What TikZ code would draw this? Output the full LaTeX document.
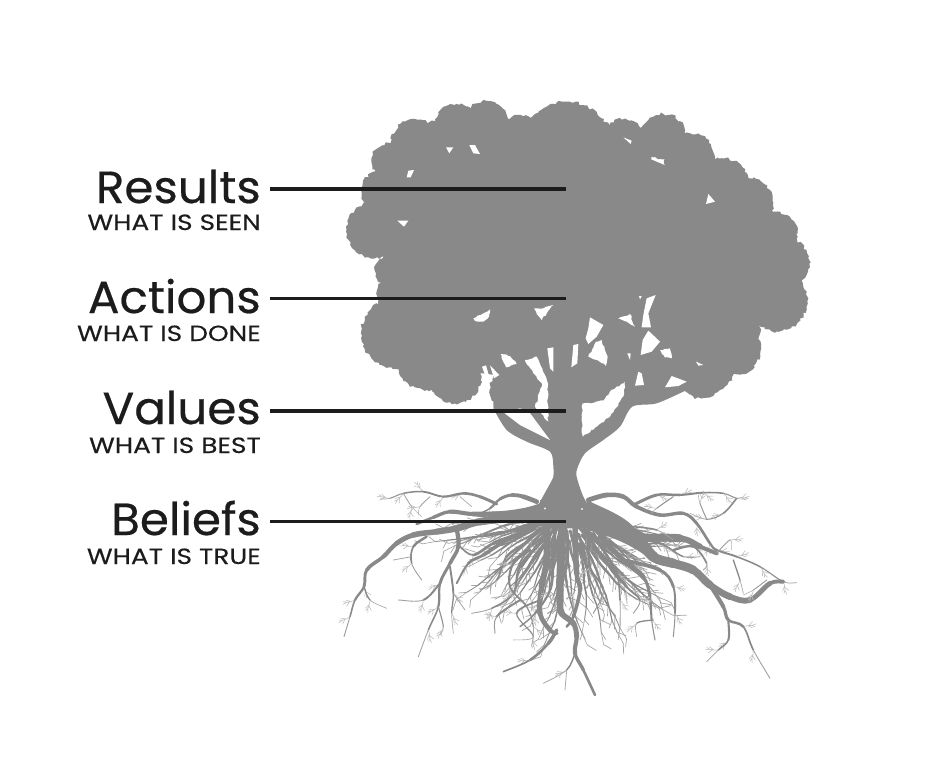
\documentclass[tikz,border=0pt]{standalone}
\usepackage{fontspec}
\setmainfont{Poppins}
\newfontfamily\hdfont[FakeBold=0.45,FakeStretch=1.04]{Poppins}
\newfontfamily\sbfont[FakeBold=0.25,FakeStretch=1.2]{Poppins}
\usetikzlibrary{decorations.pathmorphing}
\definecolor{treegray}{HTML}{898989}
\definecolor{inkk}{HTML}{1C1C1C}
\newcount\rc
\newcommand\RX[1]{\csname rx#1\endcsname}
\newcommand\RY[1]{\csname ry#1\endcsname}
% small twig with side forks, starting at (x,y) heading angle
\newcommand\tw[3]{%
  \draw[rootline,line width=.55pt,color=treegray!55!white]
    (#1,#2) -- ++({#3}:13) coordinate (tq) -- ++({#3+12}:13) coordinate (tr) -- ++({#3-6}:13)
    (tq) -- ++({#3+38}:17) (tq) ++({#3+8}:5) -- ++({#3-35}:15)
    (tr) -- ++({#3+35}:10);}
% tapered smooth root: start width, end width, points
\newcommand\rt[3]{%
  \global\rc=0
  \foreach \x/\y in {#3}{\global\advance\rc by 1
    \expandafter\xdef\csname rx\the\rc\endcsname{\x}%
    \expandafter\xdef\csname ry\the\rc\endcsname{\y}}%
  \pgfmathtruncatemacro\nseg{\the\rc-1}%
  \foreach \i in {1,...,\nseg}{%
    \pgfmathtruncatemacro\ia{max(\i-1,1)}%
    \pgfmathtruncatemacro\ib{\i+1}%
    \pgfmathtruncatemacro\ic{min(\i+2,\nseg+1)}%
    \pgfmathsetmacro\w{#1+(#2-#1)*(\i-.5)/\nseg}%
    \pgfmathsetmacro\pc{min(100,40+60*\w/1.3)}%
    \pgfmathsetmacro\ax{\RX{\i}+(\RX{\ib}-\RX{\ia})/6}%
    \pgfmathsetmacro\ay{\RY{\i}+(\RY{\ib}-\RY{\ia})/6}%
    \pgfmathsetmacro\bx{\RX{\ib}-(\RX{\ic}-\RX{\i})/6}%
    \pgfmathsetmacro\by{\RY{\ib}-(\RY{\ic}-\RY{\i})/6}%
    \draw[rootline,line width=\w pt,color=treegray!\pc!white] (\RX{\i},\RY{\i}) .. controls (\ax,\ay) and (\bx,\by) .. (\RX{\ib},\RY{\ib});
    \ifnum\i<\nseg
    \ifdim\w pt<3pt
      \pgfmathsetmacro\dirr{atan2(\RY{\ib}-\RY{\i},\RX{\ib}-\RX{\i})+(rnd>.5?1:-1)*(25+25*rnd)}%
      \tw{\RX{\ib}}{\RY{\ib}}{\dirr}%
    \fi\fi
  }}
\tikzset{
  rootline/.style={line cap=round,line join=round},
  tuft/.style={fill=treegray,decorate,decoration={random steps,segment length=2.8pt,amplitude=1.5pt}},
  hole/.style={fill=white,decorate,decoration={random steps,segment length=2.6pt,amplitude=.8pt}},
  title/.style={anchor=base east,inner sep=0pt,font=\hdfont\fontsize{45}{45}\selectfont,text=inkk},
  subtitle/.style={anchor=base east,inner sep=0pt,font=\sbfont\fontsize{22}{22}\selectfont,text=inkk},
  leader/.style={draw=inkk,line width=3.4pt}
}
\begin{document}
\begin{tikzpicture}[x=1pt,y=-1pt]
\useasboundingbox[fill=white] (0,0) rectangle (930,772);
\pgfmathsetseed{11}
% ---------- canopy (coordinates of a 3x crop at 340,90)
\begin{scope}[shift={(340,90)},scale=1/3]
  \fill[treegray] (170,300)--(240,200)--(420,130)--(700,110)--(1080,270)--(1300,480)--(1300,640)--(1180,760)--(1050,850)--(880,870)--(760,900)--(430,850)--(300,850)--(130,700)--(130,450)--cycle;
  \foreach \cx/\cy/\r in {
    105/420/85, 135/305/70, 150/215/55, 200/265/65, 225/160/72, 290/150/56, 350/105/63, 440/100/67, 540/140/65, 680/170/135,
    770/160/70, 850/150/62, 910/160/50, 970/140/68, 1050/205/75, 1145/290/85, 1225/340/75, 1295/440/78, 1330/520/78,
    1310/632/92, 1140/700/120, 1190/780/72, 1120/840/62, 1085/860/65, 170/730/107, 260/810/90,
    345/860/80, 150/540/45, 155/610/45, 980/800/80, 760/845/88}
    {\fill[tuft] (\cx,\cy) circle [radius=\r];}
\end{scope}
% ---------- trunk and big limbs (3x crop at 470,340)
\begin{scope}[shift={(470,340)},scale=1/3]
  \fill[tuft] (132,148) circle [radius=72];
  \fill[treegray] plot[smooth,tension=.5] coordinates {(70,205)(110,270)(170,305)(240,335)(250,380)(250,410)(235,440)(208,490)(198,520)(190,560)}
    -- plot[smooth,tension=.5] coordinates {(390,560)(370,520)(340,470)(320,410)(322,385)(345,340)(400,300)(450,260)(487,200)(560,190)(650,150)}
    -- (650,60)--(70,60)--cycle;
  % white gaps between the limbs
  \fill[white] (104,220)--(150,255)--(240,300)--(176,214)--(150,205)--cycle;
  \fill[white] (60,215)--(70,205)--(68,195)--(60,190)--(50,205)--cycle;
  \fill[hole] (165,60)--(200,50)--(232,125)--(235,245)--(195,200)--(217,135)--(190,100)--cycle;
  \fill[white] (232,25)--(250,22)--(250,95)--(240,85)--cycle;
  \fill[white] (310,15)--(325,12)--(322,70)--(304,82)--cycle;
  \fill[hole] (338,190)--(372,188)--(400,182)--(420,155)--(465,125)--(460,170)--(420,230)--(338,290)--(335,240)--cycle;
  \fill[white] (28,165)--(40,135)--(52,175)--cycle;
  \fill[white] (36,80)--(48,76)--(60,118)--(50,118)--cycle;
  \fill[white] (60,76)--(88,105)--(72,115)--cycle;
  \fill[hole] (92,42)--(120,48)--(140,72)--(108,82)--cycle;
  \fill[white] (505,95)--(515,100)--(522,135)--(495,137)--cycle;
  \fill[white] (605,108)--(650,125)--(625,138)--(585,142)--cycle;
\end{scope}
% ---------- gaps of the crown (same crop as canopy)
\begin{scope}[shift={(340,90)},scale=1/3]
  \fill[hole] (400,685)--(430,670)--(450,658)--(447,680)--(430,695)--(405,693)--cycle;
  \fill[hole] (582,655)--(610,655)--(640,645)--(620,670)--(605,690)--(590,672)--cycle;
  \fill[white] (750,682)--(790,705)--(770,740)--(745,762)--(737,745)--(745,715)--cycle;
  \fill[hole] (835,685)--(870,672)--(885,710)--(860,695)--cycle;
  \fill[white] (920,625)--(947,615)--(925,670)--(933,712)--(905,712)--(910,675)--cycle;
  \fill[white] (925,722)--(960,755)--(935,785)--(902,795)--(908,750)--cycle;
  \fill[hole] (960,780)--(990,775)--(995,805)--(975,803)--cycle;
  \fill[hole] (768,755)--(785,750)--(803,800)--(798,828)--(775,812)--(745,800)--cycle;
  \fill[white] (1068,815)--(1090,825)--(1075,827)--cycle;
  \fill[white] (318,172)--(340,172)--(328,190)--cycle;
  \fill[white] (388,165)--(405,165)--(420,192)--(400,190)--cycle;
  \fill[white] (205,242)--(222,240)--(212,262)--(200,262)--cycle;
  \fill[white] (172,392)--(205,392)--(192,410)--cycle;
  \fill[white] (850,142)--(875,152)--(872,162)--cycle;
  \fill[white] (1105,312)--(1125,335)--(1098,342)--cycle;
  \fill[white] (862,790)--(872,790)--(870,810)--cycle;
  \fill[white] (897,618)--(905,618)--(900,628)--cycle;
\end{scope}
% ---------- roots (3x crop at 340,400)
\begin{scope}[shift={(340,400)},scale=1/3]
  % fine network
  \foreach \n in {1,...,62}{%
    \pgfmathsetmacro\aa{10+160*rnd}%
    \pgfmathsetmacro\rr{50+60*rnd}%
    \pgfmathsetmacro\sx{680+\rr*cos(\aa)}%
    \pgfmathsetmacro\sy{335+\rr*sin(\aa)}%
    \xdef\cxx{\sx}\xdef\cyy{\sy}\xdef\cang{\aa}%
    \pgfmathtruncatemacro\st{5+5*rnd}%
    \foreach \j in {1,...,\st}{%
      \pgfmathsetmacro\nang{\cang+22*(rnd-.5)}%
      \pgfmathsetmacro\nx{\cxx+38*cos(\nang)}%
      \pgfmathsetmacro\ny{\cyy+38*sin(\nang)}%
      \pgfmathsetmacro\w{max(.6,3.2-2.6*\j/\st)}%
      \pgfmathsetmacro\pc{min(100,50+50*\w/1.1)}%
      \draw[rootline,line width=\w pt,color=treegray!\pc!white] (\cxx,\cyy)--(\nx,\ny);
      \pgfmathsetmacro\fa{\nang+(rnd>.5?1:-1)*(25+25*rnd)}%
      \draw[rootline,line width=.7pt,color=treegray!75!white] (\nx,\ny)-- ++(\fa:18+22*rnd);
      \xdef\cxx{\nx}\xdef\cyy{\ny}\xdef\cang{\nang}%
    }%
  }
  % collar mass
  \fill[treegray] (600,300)--(770,320)--(750,385)--(612,385)--cycle;
  \fill[treegray] (610,305) .. controls (560,330) and (480,335) .. (400,338) -- (400,348) .. controls (500,360) and (580,365) .. (625,385) -- cycle;
  \fill[treegray] (740,300) .. controls (790,325) and (850,345) .. (885,385) .. controls (915,420) and (940,450) .. (965,485) -- (945,490) .. controls (900,450) and (840,415) .. (740,390) -- cycle;
  % left side
  \rt{5}{1}{590/305,550/290,515/285,480/297,450/325,410/345}
  \rt{3.2}{.5}{470/312,420/290,370/280,310/290,250/275,190/280,150/295,120/297}
  \rt{6}{2.2}{640/335,520/340,400/342,330/335,280/352,230/372}
  \rt{8.5}{.6}{640/350,520/355,420/365,350/385,290/395,220/405,170/430,130/470,80/510,72/560,45/600,30/650,12/710}
  \rt{4.6}{.5}{350/385,355/440,330/490,300/550,295/620,265/690,235/770}
  \rt{2.4}{.4}{300/550,250/600,175/600}
  \rt{2.8}{.5}{260/410,220/440,215/490,245/540}
  \rt{1.2}{.4}{215/470,160/480}
  \rt{1.6}{.4}{72/560,90/600,140/625}
  \rt{2.2}{.4}{330/500,340/580,335/640,340/700}
  \rt{1.2}{.4}{340/580,375/630}
  \rt{1.4}{.4}{295/620,310/680,300/705}
  \rt{1}{.4}{190/280,215/320,245/350}
  \rt{1}{.4}{270/290,240/320,235/345}
  \rt{1}{.4}{360/290,395/320}
  % inner left
  \rt{5}{1.2}{610/365,540/400,460/430,400/465,360/440}
  \rt{5}{1.4}{585/380,500/420,430/465,385/490,350/550}
  \rt{3.6}{.6}{600/385,560/425,500/470,470/540,420/570}
  \rt{3.4}{.5}{610/420,540/500,520/580,455/625,395/640}
  \rt{2.8}{.5}{570/450,520/490,510/560,560/620,580/680,575/740}
  \rt{2.4}{.5}{540/600,470/650,465/700}
  \rt{2}{.4}{600/600,530/640,580/710,520/720}
  % central taproots
  \rt{7}{3.6}{620/370,620/480,605/560,600/640,630/690,650/700}
  \rt{8.5}{2.2}{668/370,662/480,660/600,665/640,700/670,710/710,705/760,730/810,765/885}
  \rt{6}{2}{705/385,710/520,720/570,700/650,680/680}
  \rt{4}{1.2}{650/690,625/730,570/780,490/815}
  \rt{1.8}{.4}{705/760,680/810,610/850}
  \rt{1.1}{.4}{680/810,675/870}
  \rt{4}{1}{645/380,640/480,630/570,585/640,540/680}
  \rt{3}{.6}{745/400,750/500,790/570,760/640}
  % right side
  \rt{5}{.6}{745/300,800/285,850/290,890/320,960/345,1030/340,1070/370,1110/430,1130/450,1190/470,1260/500,1330/545,1370/548}
  \rt{3.2}{.4}{880/315,950/285,1020/285,1090/278,1150/280,1190/295,1220/297}
  \rt{1.8}{.4}{1190/295,1150/340,1100/358,1050/340}
  \rt{1.2}{.4}{1100/358,1080/310,1075/285}
  \rt{1.3}{.4}{1000/290,950/325,930/345}
  \rt{11}{3.4}{890/405,940/470,1000/490,1060/510,1110/555,1170/590,1230/600,1290/550,1330/545}
  \rt{9}{3}{880/415,1020/415,1080/440,1130/460}
  \rt{4.4}{.5}{1110/555,1150/620,1165/660,1210/680,1240/750,1290/835}
  \rt{2.4}{.5}{1165/660,1165/720,1135/750,1100/785}
  \rt{5.5}{.6}{780/410,850/480,910/530,930/590,935/660,945/720}
  \rt{4.2}{.6}{850/480,960/510,1000/560,1005/640,1000/710}
  \rt{1.6}{.4}{940/660,890/670,890/710}
  \rt{3.6}{.5}{760/400,790/450,830/520,840/600,840/690}
  \rt{3}{.5}{770/450,860/560,900/600,880/640}
  \rt{2.8}{.5}{1000/450,1060/440,1100/490,1090/510}
  \rt{1.6}{.4}{1180/480,1200/540,1210/580}
  \rt{1.1}{.4}{1280/540,1240/570,1210/585}
  \rt{1.1}{.4}{1130/460,1170/420,1175/450}
  \rt{2.4}{.5}{900/440,960/430,1030/470,1080/470}
  \rt{2}{.4}{880/380,950/390,1000/420}
\end{scope}
% tiny pale dots in the root collar
\fill[white!85!treegray] (545,508.5) circle [radius=1.2];
\fill[white!85!treegray] (582,509) circle [radius=1.2];
% ---------- labels and leaders
\node[title] (results) at (261,203) {Results};
\node[subtitle] (resultsub) at (261,230) {WHAT IS SEEN};
\node[title] (actions) at (261,313) {Actions};
\node[subtitle] (actionsub) at (261,341) {WHAT IS DONE};
\node[title] (values) at (261,424) {Values};
\node[subtitle] (valuesub) at (261,453) {WHAT IS BEST};
\node[title] (beliefs) at (261,535) {Beliefs};
\node[subtitle] (beliefsub) at (261,564) {WHAT IS TRUE};
\coordinate (a1) at (270,189); \coordinate (b1) at (566,189);
\coordinate (a2) at (270,298.5); \coordinate (b2) at (566,298.5);
\coordinate (a3) at (270,411); \coordinate (b3) at (566,411);
\coordinate (a4) at (270,521.5); \coordinate (b4) at (566,521.5);
\draw[leader] (a1) -- (b1);
\draw[leader] (a2) -- (b2);
\draw[leader] (a3) -- (b3);
\draw[leader] (a4) -- (b4);
\end{tikzpicture}
\end{document}
